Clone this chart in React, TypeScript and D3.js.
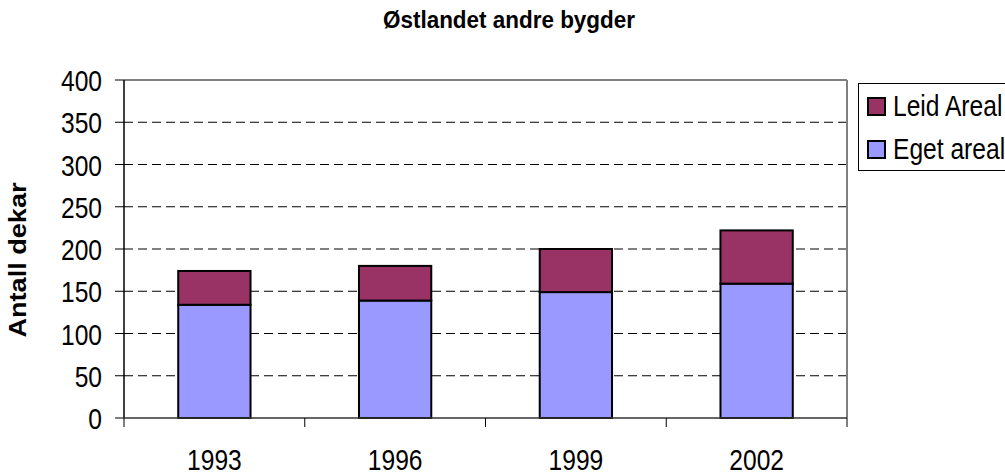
import React, { useMemo } from "react";
import * as d3 from "d3";

const years = ["1993", "1996", "1999", "2002"];
const egetAreal = [134, 139, 149, 159];
const leidAreal = [40, 41, 51, 63];
const yTicks = [0, 50, 100, 150, 200, 250, 300, 350, 400];
const legendItems = [
  { key: "leid", label: "Leid Areal", color: "#993366" },
  { key: "eget", label: "Eget areal", color: "#9999FF" },
];

const W = 1005;
const H = 473;
const PLOT = { left: 124, right: 847, top: 80, bottom: 418 };
const SANS = "'Liberation Sans', Arial, sans-serif";

// no narrow font installed, so squeeze Liberation Sans horizontally
function NarrowText({ x, y, anchor = "start", children }: { x: number; y: number; anchor?: string; children: React.ReactNode }) {
  return (
    <text
      transform={`translate(${x},${y}) scale(0.82,1)`}
      textAnchor={anchor}
      fontFamily={SANS}
      fontSize={30}
      fill="#000"
    >
      {children}
    </text>
  );
}

export default function App() {
  const rows = useMemo(
    () => years.map((y, i) => ({ year: y, eget: egetAreal[i], leid: leidAreal[i] })),
    []
  );

  const x = d3.scaleBand<string>()
    .domain(years)
    .range([PLOT.left, PLOT.right])
    .paddingInner(0.6)
    .paddingOuter(0.3);

  const y = d3.scaleLinear().domain([0, 400]).range([PLOT.bottom, PLOT.top]);

  const series = d3.stack<any>().keys(["eget", "leid"])(rows);
  const colorOf: Record<string, string> = { eget: "#9999FF", leid: "#993366" };

  const step = x.step();
  const boundaries = d3.range(years.length + 1).map((i) => PLOT.left + i * step);

  return (
    <svg
      width={W}
      height={H}
      style={{ position: "absolute", left: 0, top: 0, display: "block", background: "#fff" }}
    >
      {/* title */}
      <text x={509} y={28} textAnchor="middle" fontFamily={SANS} fontWeight="bold" fontSize={23} textLength={252} lengthAdjust="spacingAndGlyphs">
        Østlandet andre bygder
      </text>

      {/* gridlines */}
      {yTicks.filter((t) => t > 0 && t < 400).map((t) => (
        <line
          key={t}
          x1={PLOT.left}
          x2={PLOT.right}
          y1={y(t)}
          y2={y(t)}
          stroke="#000"
          strokeWidth={1}
          strokeDasharray="9 5"
        />
      ))}

      {/* plot frame top/right */}
      <line x1={PLOT.left} x2={PLOT.right} y1={PLOT.top} y2={PLOT.top} stroke="#808080" strokeWidth={2} />
      <line x1={PLOT.right} x2={PLOT.right} y1={PLOT.top} y2={PLOT.bottom} stroke="#808080" strokeWidth={2} />

      {/* bars */}
      {series.map((s) => (
        <g key={s.key}>
          {s.map((d, i) => (
            <rect
              key={i}
              x={x(years[i])!}
              y={y(d[1])}
              width={x.bandwidth()}
              height={y(d[0]) - y(d[1])}
              fill={colorOf[s.key]}
              stroke="#000"
              strokeWidth={2}
            />
          ))}
        </g>
      ))}

      {/* y axis */}
      <line x1={PLOT.left} x2={PLOT.left} y1={PLOT.top} y2={PLOT.bottom} stroke="#000" strokeWidth={1.5} />
      {yTicks.map((t) => (
        <g key={t}>
          <line x1={PLOT.left - 9} x2={PLOT.left} y1={y(t)} y2={y(t)} stroke="#000" strokeWidth={1} />
          <NarrowText x={102} y={y(t) + 11} anchor="end">
            {t}
          </NarrowText>
        </g>
      ))}

      {/* x axis */}
      <line x1={PLOT.left} x2={PLOT.right} y1={PLOT.bottom} y2={PLOT.bottom} stroke="#333" strokeWidth={1.5} />
      {boundaries.map((bx, i) => (
        <line key={i} x1={bx} x2={bx} y1={PLOT.bottom} y2={PLOT.bottom + 9} stroke="#000" strokeWidth={1} />
      ))}
      {years.map((yr) => (
        <NarrowText key={yr} x={x(yr)! + x.bandwidth() / 2} y={470} anchor="middle">
          {yr}
        </NarrowText>
      ))}

      {/* y label */}
      <text
        transform="translate(26,260) rotate(-90)"
        textAnchor="middle"
        fontFamily={SANS}
        fontWeight="bold"
        fontSize={24}
        textLength={155}
        lengthAdjust="spacingAndGlyphs"
      >
        Antall dekar
      </text>

      {/* legend */}
      <rect x={858.5} y={83.5} width={160} height={87} fill="#fff" stroke="#000" strokeWidth={1} />
      {legendItems.map((item, i) => (
        <g key={item.key} transform={`translate(0, ${i * 43})`}>
          <rect x={868} y={98} width={17} height={17} fill={item.color} stroke="#000" strokeWidth={2} />
          <NarrowText x={893} y={116}>
            {item.label}
          </NarrowText>
        </g>
      ))}
    </svg>
  );
}
